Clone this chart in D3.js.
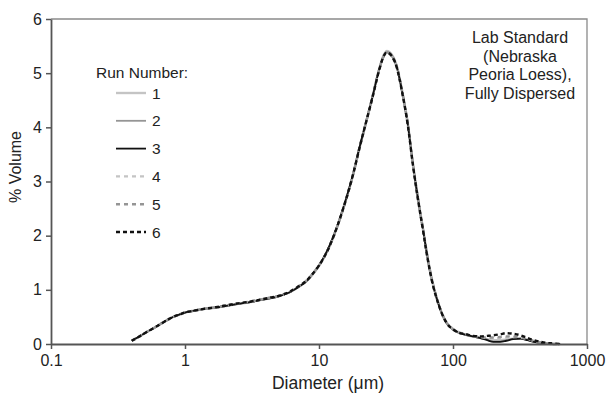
<!DOCTYPE html>
<html><head><meta charset="utf-8">
<script src="https://cdn.jsdelivr.net/npm/d3@7"></script>
<style>body{margin:0;background:#fff}svg{display:block}text{font-family:"Liberation Sans",Arial,sans-serif;fill:#222}</style>
</head><body><svg id="c" width="611" height="397"></svg>
<script>
const diameters = [0.4,0.45,0.5,0.6,0.7,0.8,0.9,1.0,1.2,1.4,1.7,2,2.5,3,4,5,6,7,8,9,10,12,14,16,18,20,22,25,28,30,32,35,38,42,46,50,55,60,65,70,76,83,90,100,110,125,140,160,180,200,225,250,280,320,360,400,450,500,560,630];
const run1 = [0.06,0.13,0.20,0.31,0.41,0.49,0.54,0.58,0.62,0.65,0.67,0.70,0.74,0.77,0.83,0.88,0.95,1.05,1.15,1.29,1.44,1.80,2.23,2.68,3.13,3.60,4.00,4.55,5.06,5.30,5.41,5.34,5.14,4.64,4.07,3.37,2.67,2.10,1.57,1.17,0.83,0.56,0.39,0.28,0.22,0.17,0.14,0.12,0.09,0.07,0.07,0.08,0.10,0.10,0.08,0.05,0.03,0.01,0.0,0.0];
const run2 = [0.06,0.13,0.20,0.31,0.41,0.49,0.54,0.58,0.62,0.65,0.67,0.70,0.74,0.77,0.83,0.88,0.95,1.05,1.15,1.30,1.45,1.81,2.24,2.69,3.14,3.61,4.01,4.55,5.05,5.29,5.40,5.33,5.13,4.63,4.06,3.36,2.66,2.09,1.56,1.16,0.82,0.55,0.38,0.27,0.21,0.17,0.14,0.11,0.08,0.05,0.05,0.07,0.09,0.10,0.07,0.04,0.02,0.01,0.0,0.0];
const run3 = [0.06,0.13,0.20,0.31,0.41,0.49,0.54,0.58,0.62,0.65,0.67,0.70,0.74,0.77,0.83,0.88,0.95,1.05,1.15,1.30,1.45,1.82,2.25,2.70,3.15,3.62,4.02,4.55,5.05,5.28,5.39,5.32,5.12,4.62,4.05,3.35,2.65,2.08,1.55,1.15,0.82,0.55,0.38,0.27,0.21,0.17,0.14,0.11,0.07,0.04,0.04,0.06,0.09,0.10,0.07,0.04,0.02,0.01,0.0,0.0];
const run4 = [0.06,0.13,0.20,0.31,0.41,0.49,0.54,0.58,0.62,0.65,0.68,0.71,0.75,0.78,0.84,0.89,0.96,1.06,1.16,1.30,1.45,1.81,2.24,2.69,3.14,3.61,4.01,4.55,5.05,5.29,5.40,5.33,5.13,4.63,4.06,3.36,2.66,2.09,1.56,1.16,0.83,0.56,0.39,0.28,0.22,0.18,0.15,0.13,0.11,0.10,0.11,0.12,0.13,0.12,0.09,0.06,0.03,0.01,0.0,0.0];
const run5 = [0.06,0.13,0.20,0.31,0.41,0.49,0.54,0.58,0.62,0.65,0.68,0.71,0.75,0.78,0.84,0.89,0.96,1.06,1.16,1.30,1.45,1.81,2.24,2.69,3.14,3.61,4.01,4.55,5.05,5.28,5.39,5.32,5.12,4.62,4.05,3.35,2.65,2.08,1.55,1.15,0.82,0.55,0.38,0.27,0.21,0.17,0.15,0.13,0.12,0.12,0.13,0.14,0.14,0.12,0.09,0.06,0.03,0.01,0.0,0.0];
const run6 = [0.06,0.13,0.20,0.31,0.41,0.49,0.54,0.58,0.62,0.65,0.68,0.71,0.75,0.78,0.84,0.89,0.96,1.06,1.16,1.30,1.45,1.81,2.24,2.69,3.14,3.61,4.01,4.54,5.04,5.28,5.38,5.31,5.11,4.61,4.04,3.34,2.64,2.07,1.54,1.14,0.82,0.55,0.38,0.27,0.21,0.18,0.15,0.14,0.15,0.16,0.18,0.20,0.19,0.16,0.11,0.07,0.04,0.02,0.01,0.0];
const runNames = ["1","2","3","4","5","6"];
const xTicks = [0.1,1,10,100,1000];
const xTickLabels = ["0.1","1","10","100","1000"];
const yTicks = [0,1,2,3,4,5,6];
const noteLines = ["Lab Standard","(Nebraska","Peoria Loess),","Fully Dispersed"];

const runs = [run1,run2,run3,run4,run5,run6];
const styles = [
  {c:"#c4c4c4", w:2.4, d:null},
  {c:"#959595", w:1.8, d:null},
  {c:"#111111", w:1.8, d:null},
  {c:"#c4c4c4", w:2.4, d:"4,4"},
  {c:"#959595", w:2.4, d:"4,4"},
  {c:"#111111", w:2.4, d:"4,3"}
];

const svg = d3.select("#c");
const x = d3.scaleLog().domain([0.1,1000]).range([51,587]);
const y = d3.scaleLinear().domain([0,6]).range([344,19]);

svg.append("path").attr("d",`M${x(0.1)},${y(6)}H${x(1000)}V${y(0)}`)
  .attr("fill","none").attr("stroke","#8a8a8a").attr("stroke-width",1.3);

const line = d3.line().x((d,i)=>x(diameters[i])).y(d=>y(d)).curve(d3.curveMonotoneX);
runs.forEach((r,k)=>{
  svg.append("path").datum(r).attr("d",line).attr("fill","none")
    .attr("stroke",styles[k].c).attr("stroke-width",styles[k].w)
    .attr("stroke-dasharray",styles[k].d);
});

const xAxis = svg.append("g").attr("transform",`translate(0,${y(0)})`)
  .call(d3.axisBottom(x).tickValues(xTicks).tickFormat((d,i)=>xTickLabels[i]).tickSize(5).tickSizeOuter(0));
const yAxis = svg.append("g").attr("transform",`translate(${x(0.1)},0)`)
  .call(d3.axisLeft(y).tickValues(yTicks).tickFormat(d3.format("d")).tickSize(5).tickSizeOuter(0));
[xAxis,yAxis].forEach(g=>{
  g.select(".domain").attr("stroke","#555").attr("stroke-width",1.8);
  g.selectAll(".tick line").attr("stroke","#555").attr("stroke-width",1.5);
  g.selectAll(".tick text").attr("font-size",16).attr("fill","#222")
    .style("font-family",'"Liberation Sans",Arial,sans-serif');
});
xAxis.selectAll(".tick text").attr("dy","0.85em");
yAxis.selectAll(".tick text").attr("x",-9);

svg.append("text").attr("x",328).attr("y",389).attr("text-anchor","middle")
  .attr("font-size",17.5).text("Diameter (\u03bcm)");
svg.append("text").attr("transform","translate(21,167) rotate(-90)").attr("text-anchor","middle")
  .attr("font-size",16).text("% Volume");

svg.append("text").attr("x",96).attr("y",78).attr("font-size",15.5).text("Run Number:");
runNames.forEach((n,k)=>{
  const yy = 93 + k*27.8;
  svg.append("line").attr("x1",116).attr("x2",146).attr("y1",yy).attr("y2",yy)
    .attr("stroke",styles[k].c).attr("stroke-width",styles[k].w)
    .attr("stroke-dasharray",styles[k].d);
  svg.append("text").attr("x",152).attr("y",yy+5.5).attr("font-size",15.5).text(n);
});

noteLines.forEach((t,i)=>{
  svg.append("text").attr("x",520).attr("y",43+i*18.7).attr("text-anchor","middle")
    .attr("font-size",16).text(t);
});
</script></body></html>
